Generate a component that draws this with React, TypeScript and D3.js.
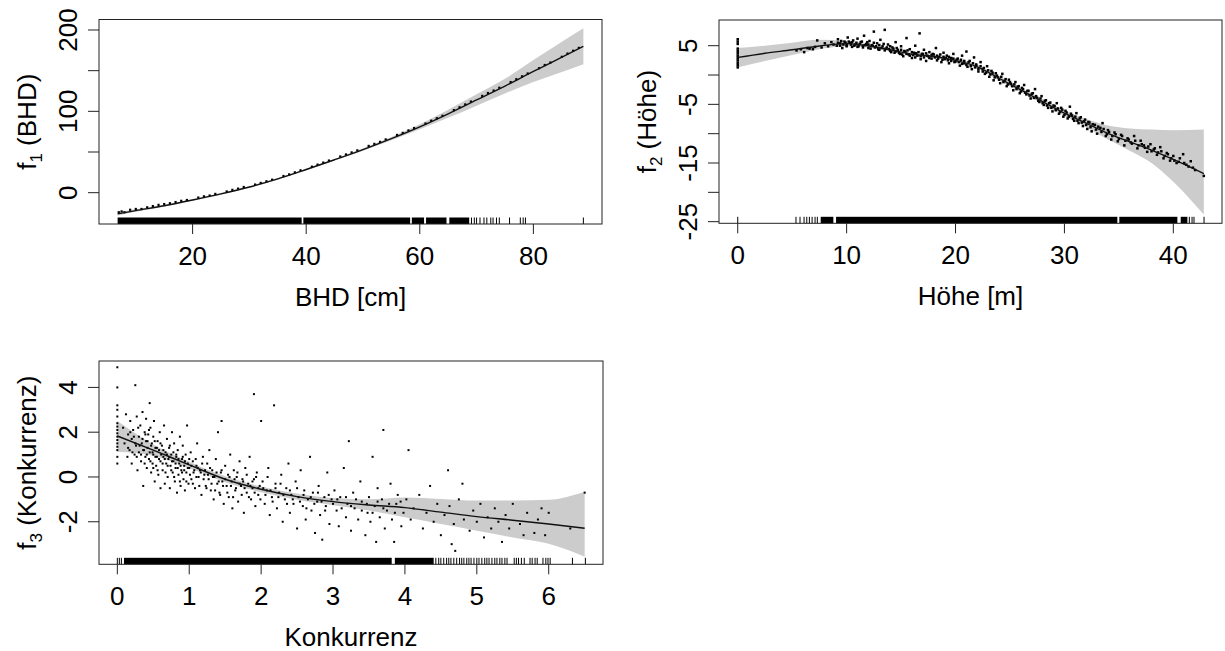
import React from "react";
import * as d3 from "d3";

// ---- f1(BHD) ----
const bhdFitX = [6.8, 10, 15, 20, 25, 30, 35, 40, 45, 50, 55, 60, 65, 70, 75, 80, 84, 88.8];
const bhdFit = [-26, -22, -16, -9, -1.5, 7, 17, 28.5, 40.5, 53, 66.5, 81, 97, 114, 131, 149, 163, 180];
const bhdLower = [-28, -23.5, -17, -10, -2.5, 6, 16, 27.5, 39.5, 51.5, 64.5, 78, 92, 107, 122, 136, 146, 158];
const bhdUpper = [-24, -20.5, -15, -8, -0.5, 8, 18, 29.5, 41.5, 54.5, 68.5, 84, 102, 121, 140, 163, 181, 202];
const bhdResid = [
  [7, -24], [7.5, -23], [8, -24], [9, -21], [10, -20], [11, -20], [12, -18], [13, -16.5], [14, -15], [15, -14],
  [16, -13], [17, -11.5], [18, -10], [19, -9], [21, -6], [22, -4.5], [23, -3.5], [24, -1.5], [26, 1.5], [27, 3.5],
  [28, 5], [29, 7], [31, 10], [32, 12], [33, 14], [34, 16], [36, 20.5], [37, 22.5], [38, 25], [39, 27.5],
  [41, 32], [42, 34.5], [43, 37], [44, 39.5], [46, 44.5], [47, 47], [48, 49.5], [49, 52], [51, 57.5], [52, 60],
  [53, 62.5], [54, 65.5], [56, 71], [57, 73.5], [58, 76.5], [59, 79.5], [61, 85], [62, 88.5], [63, 91.5], [64, 94.5],
  [66, 101.5], [67, 105], [68, 108.5], [69, 112], [71, 119], [72, 122.5], [73, 125.5], [74, 129], [76, 136], [77, 139.5],
  [78, 143], [79, 146.5], [81, 153], [82, 157], [83, 160], [85, 167], [86, 171], [87, 174.5], [88, 178],
];
const bhdRugRanges = [[6.8, 39.2], [39.5, 58.3], [58.6, 60.75], [61.1, 64.7], [65.2, 68.7]];
const bhdRugTicks = [69.1, 69.6, 70.0, 70.6, 71.3, 71.8, 72.5, 72.9, 73.5, 74.0, 75.8, 77.7, 78.2, 78.6, 88.8];
const bhdXTicks = [20, 40, 60, 80];
const bhdYTicks = [0, 50, 100, 150, 200];
const bhdYLabels = [0, 100, 200];

// ---- f2(Höhe) ----
const hFitX = [0, 2.5, 5, 7.5, 10, 12, 14, 16, 18, 20, 22, 24, 26, 28, 30, 32, 34, 36, 38, 40, 42.8];
const hFit = [3.0, 3.7, 4.3, 4.95, 5.35, 4.95, 4.3, 3.55, 3.15, 2.5, 1.4, -0.55, -2.55, -4.55, -6.5, -8.2, -9.95, -11.4, -12.8, -14.4, -16.8];
const hLower = [1.3, 2.4, 3.4, 4.4, 4.9, 4.65, 4.0, 3.3, 2.9, 2.2, 1.05, -0.95, -2.95, -4.95, -7.0, -8.9, -11.0, -12.9, -15.0, -18.2, -23.8];
const hUpper = [4.6, 5.0, 5.5, 6.0, 5.8, 5.25, 4.6, 3.8, 3.4, 2.8, 1.75, -0.15, -2.15, -4.15, -6.0, -7.5, -8.6, -9.1, -9.3, -9.4, -9.3];
const hResid = [
  [0, 1.3], [0, 1.7], [0, 2.1], [0, 2.5], [0, 2.9], [0, 3.3], [0, 3.7], [0, 4.1], [0, 4.5], [0, 5.3], [0, 5.7], [0, 6.1],
  [5.4, 4.2], [5.8, 4.4], [6.1, 3.9], [6.4, 4.6], [6.6, 4.5], [6.9, 4.4], [7.1, 4.8], [7.3, 5.9], [7.7, 4.7], [8.0, 5.4], [8.3, 4.9], [8.6, 5.6], [8.8, 5.2],
  [9.1, 5.0], [9.2, 6.1], [9.4, 5.4], [9.6, 4.6], [9.8, 5.7], [10.0, 5.1], [10.1, 6.4], [10.3, 5.5], [10.5, 4.8], [10.6, 5.9], [10.8, 5.2], [11.0, 6.2],
  [11.1, 4.9], [11.3, 5.6], [11.5, 5.0], [11.6, 6.7], [11.8, 5.3], [12.0, 4.6], [12.1, 5.8], [12.3, 5.1], [12.5, 7.4], [12.6, 4.7], [12.8, 5.4],
  [13.0, 4.3], [13.1, 6.0], [13.3, 4.9], [13.5, 7.7], [13.6, 4.5],
  [13.8, 5.2], [14.0, 4.1], [14.2, 4.7], [14.4, 3.8], [14.5, 5.6], [14.7, 4.3], [14.9, 3.6], [15.0, 4.9], [15.2, 3.2], [15.4, 4.0], [15.5, 6.3],
  [15.7, 3.5], [15.8, 4.4], [16.0, 2.9], [16.2, 3.8], [16.3, 5.0], [16.5, 3.3], [16.7, 7.1], [16.8, 2.7], [17.0, 3.6], [17.1, 4.3], [17.3, 2.4],
  [17.5, 3.2], [17.6, 3.9], [17.8, 2.8], [18.0, 3.5], [18.2, 4.6], [18.3, 2.5], [18.5, 3.1], [18.7, 2.2], [18.9, 3.8], [19.0, 2.7], [19.2, 3.3],
  [19.4, 2.0], [19.6, 2.9], [19.8, 3.6], [20.0, 2.3],
  [20.2, 2.8], [20.4, 1.6], [20.6, 3.3], [20.8, 2.0], [21.0, 4.0], [21.1, 1.4], [21.3, 2.4], [21.5, 1.0], [21.7, 3.0], [21.9, 1.6], [22.1, 0.6],
  [22.3, 2.2], [22.5, 1.0], [22.7, 0.2], [22.9, 1.5], [23.1, -0.3], [23.3, 0.7], [23.5, -0.9], [23.7, 0.3], [23.9, -0.4], [24.1, -1.4], [24.3, 0.2],
  [24.5, -1.0], [24.7, -1.9], [24.9, -0.8], [25.1, -1.5], [25.3, -2.6], [25.5, -1.2], [25.7, -2.0], [25.9, -3.1], [26.1, -2.2], [26.3, -1.7],
  [26.5, -3.3], [26.7, -2.7], [26.9, -4.0], [27.1, -3.1], [27.3, -2.4], [27.5, -3.9], [27.7, -4.6], [27.9, -3.6], [28.1, -5.1], [28.3, -4.3],
  [28.5, -5.6], [28.7, -4.7], [28.9, -6.2], [29.1, -5.3], [29.3, -4.8], [29.5, -6.6], [29.7, -5.6], [29.9, -7.1],
  [30.1, -6.1], [30.3, -7.4], [30.5, -5.4], [30.7, -6.9], [30.9, -7.8], [31.1, -6.5], [31.3, -8.2], [31.5, -7.2], [31.7, -8.7], [31.9, -7.6],
  [32.1, -9.2], [32.3, -8.1], [32.5, -9.6], [32.8, -8.5], [33.0, -10.0], [33.3, -9.0], [33.5, -8.2], [33.8, -10.4], [34.0, -9.4], [34.3, -11.0],
  [34.6, -9.8], [34.9, -11.3], [35.2, -10.2], [35.5, -12.0], [35.8, -10.8], [36.1, -11.5], [36.4, -10.4], [36.7, -12.5], [37.0, -11.2],
  [37.3, -12.0], [37.6, -13.1], [37.9, -11.8], [38.2, -12.7], [38.5, -13.6], [38.8, -12.3], [39.1, -14.2], [39.4, -13.3], [39.7, -14.6],
  [40.0, -13.8], [40.3, -15.0], [40.6, -14.2], [40.9, -13.5], [41.2, -15.3], [41.6, -14.7], [42.0, -16.2], [42.8, -17.2],
  [9.2, 5.5], [9.4, 5.0], [9.5, 5.8], [9.7, 5.2], [9.9, 5.5], [10.0, 4.9], [10.2, 5.7], [10.4, 5.2], [10.5, 5.6], [10.7, 5.0], [10.9, 5.5],
  [11.0, 4.8], [11.2, 5.3], [11.4, 5.7], [11.5, 4.7], [11.7, 5.1], [11.9, 5.6], [12.0, 5.2], [12.2, 4.5], [12.4, 5.0], [12.5, 5.5], [12.7, 4.9],
  [12.9, 4.4], [13.0, 5.1], [13.2, 4.6], [13.4, 5.3], [13.5, 4.2], [13.7, 4.7], [13.9, 4.4], [14.0, 4.9], [14.1, 3.9], [14.3, 4.5], [14.5, 4.0],
  [14.6, 4.6], [14.8, 3.8], [15.0, 4.3], [15.1, 3.5], [15.3, 4.1], [15.5, 3.6], [15.6, 4.2], [15.8, 3.3], [16.0, 3.9], [16.1, 3.4], [16.3, 3.0],
  [16.4, 3.7], [16.6, 3.9], [16.8, 3.2], [16.9, 3.6], [17.1, 3.0], [17.3, 3.7], [17.4, 3.3], [17.6, 2.9], [17.8, 3.4], [17.9, 3.6], [18.1, 3.0],
  [18.3, 3.3], [18.4, 2.8], [18.6, 3.5], [18.8, 2.6], [18.9, 3.1], [19.1, 2.9], [19.3, 2.5], [19.4, 3.1], [19.6, 2.4], [19.8, 2.8], [19.9, 2.2],
  [20.1, 2.6], [20.3, 2.2], [20.5, 2.6], [20.6, 1.9], [20.8, 2.4], [21.0, 1.7], [21.2, 2.2], [21.4, 1.5], [21.6, 2.0], [21.8, 1.3], [21.9, 1.8],
  [22.1, 1.0], [22.3, 1.5], [22.5, 0.6], [22.6, 1.2], [22.8, 0.4], [23.0, 0.8], [23.2, 0.1], [23.4, 0.4], [23.6, -0.4], [23.8, -0.1], [24.0, -0.8],
  [24.2, -0.3], [24.4, -1.2], [24.6, -0.7], [24.8, -1.6], [25.0, -1.2], [25.2, -1.9], [25.4, -1.6], [25.6, -2.4], [25.8, -1.9], [26.0, -2.8],
  [26.2, -2.4], [26.4, -3.0], [26.6, -2.7], [26.8, -3.5], [27.0, -3.2], [27.2, -3.9], [27.4, -3.6], [27.6, -4.4], [27.8, -4.0], [28.0, -4.8],
  [28.2, -4.4], [28.4, -5.2], [28.6, -4.8], [28.8, -5.6], [29.0, -5.2], [29.2, -6.0], [29.4, -5.7], [29.6, -6.3], [29.8, -5.9], [30.0, -6.8],
  [30.2, -6.4], [30.4, -7.1], [30.6, -6.6], [30.8, -7.5], [31.0, -7.1], [31.2, -7.8], [31.4, -7.4], [31.6, -8.1], [31.8, -7.9], [32.0, -8.5],
  [32.2, -8.0], [32.4, -8.9], [32.6, -8.4], [32.9, -9.3], [33.1, -8.8], [33.4, -9.7], [33.6, -9.2], [33.9, -10.1], [34.1, -9.7], [34.4, -10.4],
  [34.7, -10.1], [35.0, -10.9], [35.3, -10.4], [35.6, -11.2], [35.9, -11.0], [36.2, -11.7], [36.5, -11.2], [36.8, -12.0], [37.1, -11.8],
  [37.4, -12.4], [37.7, -12.2], [38.0, -13.0], [38.3, -12.5], [38.6, -13.2], [38.9, -13.0], [39.2, -13.8], [39.5, -13.5], [39.8, -14.2],
  [40.1, -14.6], [40.5, -14.8], [41.0, -15.0], [41.4, -15.6], [41.8, -15.8],
];
const hRugRanges = [[7.62, 8.78], [9.03, 34.86], [35.04, 40.37], [40.68, 41.29]];
const hRugTicks = [0, 5.35, 5.72, 6.09, 6.34, 6.58, 6.83, 7.1, 7.31, 41.47, 41.72, 41.9, 42.82];
const hXTicks = [0, 10, 20, 30, 40];
const hYTicks = [5, 0, -5, -10, -15, -20, -25];
const hYLabels = [5, -5, -15, -25];

// ---- f3(Konkurrenz) ----
const kFitX = [0, 0.5, 1, 1.5, 2, 2.5, 3, 3.5, 4, 4.5, 5, 5.5, 6, 6.5];
const kFit = [1.83, 1.2, 0.54, -0.1, -0.55, -0.88, -1.1, -1.25, -1.37, -1.57, -1.77, -1.93, -2.1, -2.29];
const kLower = [1.13, 0.95, 0.4, -0.23, -0.68, -1.02, -1.26, -1.5, -1.8, -2.1, -2.4, -2.7, -2.98, -3.56];
const kUpper = [2.5, 1.45, 0.68, 0.03, -0.42, -0.74, -0.94, -1.0, -0.92, -0.98, -1.05, -1.05, -1.02, -0.66];
const kResid = [
  [0, 0.6], [0, 0.9], [0, 1.2], [0, 1.35], [0, 1.5], [0, 1.65], [0, 1.8], [0, 1.95], [0, 2.1], [0, 2.25], [0, 2.4], [0, 2.7], [0, 3.0], [0, 3.2], [0, 4.0], [0, 4.9],
  [0.08, 2.2], [0.1, 1.5], [0.12, 2.8], [0.14, 0.9], [0.15, 1.9], [0.17, 1.2], [0.18, 2.5], [0.2, 0.6], [0.2, 1.7], [0.22, 2.1], [0.24, 1.0],
  [0.25, 4.1], [0.26, 1.4], [0.27, 2.7], [0.28, 0.3], [0.3, 1.8], [0.3, 1.1], [0.32, 2.3], [0.33, 0.7], [0.34, 1.5], [0.35, 2.9], [0.36, -0.4],
  [0.37, 1.2], [0.38, 2.0], [0.39, 0.9], [0.4, 1.6], [0.4, 2.6], [0.41, 0.4], [0.42, 1.3], [0.43, 1.9], [0.44, 0.8], [0.45, 3.3], [0.45, 1.1],
  [0.46, 2.2], [0.47, 0.2], [0.48, 1.5], [0.49, 0.6], [0.5, 1.0], [0.5, 1.8], [0.51, 2.5], [0.52, -0.2], [0.53, 1.3], [0.54, 0.5], [0.55, 0.9],
  [0.56, 1.6], [0.57, 0.1], [0.58, 1.2], [0.59, 2.0], [0.6, 0.7], [0.6, -0.5],
  [0.62, 1.4], [0.63, 0.3], [0.64, 0.9], [0.65, 2.3], [0.66, -0.3], [0.67, 1.1], [0.68, 0.6], [0.69, 1.7], [0.7, 0.0], [0.71, 0.8], [0.72, 1.3],
  [0.73, -0.5], [0.74, 0.5], [0.75, 1.0], [0.76, 2.0], [0.77, 0.2], [0.78, 0.7], [0.79, 1.5], [0.8, -0.2], [0.81, 0.4], [0.82, 0.9], [0.83, -0.7],
  [0.84, 1.2], [0.85, 0.1], [0.86, 0.6], [0.87, 1.8], [0.88, -0.4], [0.89, 0.3], [0.9, 0.8], [0.91, 1.4], [0.92, -0.1], [0.93, 0.5], [0.94, -0.6],
  [0.95, 1.0], [0.96, 0.2], [0.97, 2.3], [0.98, 0.6], [0.99, -0.3], [1.0, 0.4], [1.02, 1.1], [1.03, -0.1], [1.05, 0.7], [1.06, 0.2], [1.08, -0.5],
  [1.1, 0.5], [1.11, 1.5], [1.13, 0.0], [1.15, 0.3], [1.17, -0.8], [1.19, 0.9],
  [1.21, 0.1], [1.23, -0.4], [1.25, 0.6], [1.27, -0.1], [1.28, 1.2], [1.3, -0.6], [1.32, 0.3], [1.34, -1.0], [1.35, 0.0], [1.37, 0.8], [1.39, -0.3],
  [1.4, 2.0], [1.42, -0.7], [1.44, 0.2], [1.45, 2.5], [1.46, -0.2], [1.48, -1.2], [1.5, 0.5], [1.52, -0.4], [1.54, 0.1], [1.55, -0.9], [1.57, 1.0],
  [1.59, -0.2], [1.6, -1.4], [1.62, 0.3], [1.64, -0.6], [1.66, 0.0], [1.68, -1.1], [1.7, 0.7], [1.72, -0.4], [1.74, -0.1], [1.76, -1.6], [1.78, 0.4],
  [1.8, -0.7], [1.82, -0.3], [1.84, 0.9], [1.86, -1.0], [1.88, -0.5], [1.9, 3.7], [1.9, -0.1], [1.92, -1.3], [1.94, 0.2], [1.96, -0.8], [1.98, -0.4],
  [2.0, 2.5], [2.02, -0.2], [2.05, -1.2], [2.08, -0.6], [2.1, 0.4], [2.12, -1.7], [2.15, -0.9], [2.18, 3.2], [2.2, -0.3], [2.22, -1.4], [2.25, -0.7],
  [2.28, 0.1], [2.3, -2.0], [2.33, -1.0], [2.35, -0.5], [2.38, 0.6], [2.4, -1.6], [2.42, -0.8], [2.45, -1.2], [2.48, -0.2], [2.5, -2.3], [2.52, -0.9],
  [2.55, 0.3], [2.58, -1.3], [2.6, -0.6], [2.62, -1.9], [2.65, -1.0], [2.68, 0.9], [2.7, -1.5], [2.72, -0.7], [2.75, -2.5], [2.78, -1.1], [2.8, -0.4],
  [2.82, -1.7], [2.85, -2.8], [2.88, -0.9], [2.9, -1.3], [2.92, 0.2], [2.95, -2.1], [2.98, -1.0],
  [3.02, -0.6], [3.05, -1.5], [3.08, -2.2], [3.1, -0.9], [3.15, 0.4], [3.18, -1.8], [3.2, -1.2], [3.22, 1.6], [3.25, -2.4], [3.28, -0.7], [3.3, -1.4],
  [3.35, -1.9], [3.38, -0.2], [3.4, -1.1], [3.45, -2.6], [3.48, -1.6], [3.5, -0.9], [3.52, -2.0], [3.55, 0.9], [3.58, -1.3], [3.6, -2.9], [3.62, -0.5],
  [3.65, -1.8], [3.68, -1.0], [3.7, 2.1], [3.72, -2.3], [3.75, -1.5], [3.8, -0.3], [3.82, -1.9], [3.85, -2.9], [3.88, -1.2], [3.9, -0.8], [3.95, -2.2], [3.98, -1.6],
  [4.02, -1.0], [4.05, 1.2], [4.08, -1.9], [4.12, -1.4], [4.2, -0.8], [4.25, -2.3], [4.3, -1.6], [4.35, -0.4], [4.4, -2.0], [4.45, -1.2], [4.5, -2.6],
  [4.55, -1.7], [4.6, 0.3], [4.62, -1.3], [4.65, -3.0], [4.68, -2.1], [4.7, -3.3], [4.75, -1.0], [4.8, -0.3], [4.82, -1.9], [4.9, -2.4], [4.95, -1.5],
  [5.0, -2.0], [5.05, -1.2], [5.1, -2.7], [5.15, -1.8], [5.2, -2.3], [5.25, -1.4], [5.3, -2.0], [5.35, -2.9], [5.4, -1.7], [5.45, -2.3], [5.5, -1.2],
  [5.6, -2.1], [5.65, -2.6], [5.7, -1.6], [5.8, -2.5], [5.85, -1.9], [5.9, -1.4], [5.95, -2.6], [6.0, -1.6], [6.3, -2.3], [6.5, -0.7],
  [0.15, 1.3], [0.18, 2.0], [0.21, 1.1], [0.23, 1.8], [0.25, 1.5], [0.27, 0.9], [0.29, 2.2], [0.31, 1.4], [0.33, 1.0], [0.35, 1.7], [0.36, 1.2],
  [0.38, 0.6], [0.39, 1.9], [0.41, 1.0], [0.42, 1.6], [0.44, 2.1], [0.46, 0.7], [0.47, 1.4], [0.49, 1.1], [0.5, 0.4], [0.52, 1.6], [0.53, 0.9],
  [0.55, 1.3], [0.56, 0.3], [0.58, 0.8], [0.6, 1.5], [0.61, 1.0], [0.63, 0.6], [0.64, 1.2], [0.66, 0.8], [0.67, 0.2], [0.69, 1.0], [0.7, 0.5],
  [0.72, 0.9], [0.73, 1.4], [0.75, 0.3], [0.76, 0.7], [0.78, 1.1], [0.79, 0.0], [0.81, 0.6], [0.82, 1.0], [0.84, 0.4], [0.85, 0.8], [0.87, -0.2],
  [0.88, 0.5], [0.9, 0.2], [0.91, 0.9], [0.93, 0.3], [0.94, 0.7], [0.96, -0.2], [0.98, 0.4], [1.0, 0.8], [1.01, 0.1], [1.03, 0.5], [1.05, -0.3],
  [1.07, 0.3], [1.09, 0.8], [1.1, 0.0], [1.12, 0.4], [1.14, -0.4], [1.16, 0.2], [1.18, 0.6], [1.2, -0.1], [1.22, 0.3], [1.24, -0.5], [1.26, 0.1],
  [1.29, 0.4], [1.31, -0.3], [1.33, 0.0], [1.36, -0.6], [1.38, 0.2], [1.41, -0.2], [1.43, -0.8], [1.45, 0.3], [1.47, -0.4], [1.5, -0.1],
  [1.53, -0.7], [1.56, 0.0], [1.58, -0.4], [1.61, -0.9], [1.63, -0.1], [1.65, -0.5], [1.67, 0.2], [1.7, -0.3], [1.73, -0.8], [1.75, -0.2],
  [1.77, -0.5], [1.8, 0.1], [1.83, -0.9], [1.85, -0.4], [1.88, -0.2], [1.91, -0.7], [1.93, 0.0], [1.96, -0.5], [1.99, -1.0], [2.03, -0.5],
  [2.06, -0.8], [2.09, 0.0], [2.13, -0.6], [2.16, -1.1], [2.2, -0.5], [2.24, -0.9], [2.27, -0.3], [2.31, -0.8], [2.36, -1.2], [2.4, -0.6],
  [2.44, -1.0], [2.5, -0.5], [2.54, -1.1], [2.59, -0.8], [2.63, -1.4], [2.69, -0.9], [2.74, -1.2], [2.79, -0.7], [2.84, -1.1], [2.89, -1.5],
  [2.94, -0.8], [3.0, -1.2], [3.06, -1.0], [3.12, -1.4], [3.18, -0.9], [3.25, -1.3], [3.32, -1.0], [3.4, -1.5], [3.47, -1.2], [3.55, -1.6],
  [3.62, -1.1], [3.7, -1.4], [3.78, -1.2], [3.86, -1.6], [3.94, -1.1],
];
const kRugRanges = [[0.093, 3.816], [3.86, 4.4]];
const kRugTicks = [
  0, 0.028, 0.056, 4.43, 4.47, 4.5, 4.54, 4.58, 4.61, 4.64, 4.68, 4.72, 4.76, 4.79, 4.82, 4.86, 4.89, 4.92, 4.96, 5.0, 5.03,
  5.07, 5.11, 5.14, 5.17, 5.21, 5.25, 5.28, 5.32, 5.35, 5.39, 5.42, 5.52, 5.55, 5.58, 5.62, 5.66, 5.74, 5.77, 5.81, 5.84,
  5.92, 5.96, 5.99, 6.02, 6.33, 6.51,
];
const kXTicks = [0, 1, 2, 3, 4, 5, 6];
const kYTicks = [4, 2, 0, -2];

const FONT = "'Liberation Sans', Arial, Helvetica, sans-serif";
const FS = 26;

function Panel(props: any) {
  const { box, xDomain, yDomain, fitX, fit, lower, upper, resid, dot, rugRanges, rugTicks, xTicks, yTicks, yLabels, xTitle, fName, sub, yName } = props;
  const [left, right, top, bottom] = box;
  const x = d3.scaleLinear().domain(xDomain).range([left, right]);
  const y = d3.scaleLinear().domain(yDomain).range([bottom, top]);
  const idx = d3.range(fitX.length);
  const area = d3.area<number>().x((i) => x(fitX[i])).y0((i) => y(lower[i])).y1((i) => y(upper[i])).curve(d3.curveMonotoneX);
  const line = d3.line<number>().x((i) => x(fitX[i])).y((i) => y(fit[i])).curve(d3.curveMonotoneX);
  const rugH = 6.5;
  const cy = (top + bottom) / 2;
  return (
    <g>
      <path d={area(idx) || ""} fill="#cccccc" />
      {resid.map((p: number[], i: number) => (
        <rect key={i} x={x(p[0]) - dot / 2} y={y(p[1]) - dot / 2} width={dot} height={dot} fill="#000" />
      ))}
      <path d={line(idx) || ""} fill="none" stroke="#111" strokeWidth={1.4} />
      {rugRanges.map((r: number[], i: number) => (
        <rect key={"rr" + i} x={x(r[0])} y={bottom - rugH} width={x(r[1]) - x(r[0])} height={rugH} fill="#000" />
      ))}
      {rugTicks.map((t: number, i: number) => (
        <line key={"rt" + i} x1={x(t)} x2={x(t)} y1={bottom - rugH} y2={bottom} stroke="#000" strokeWidth={1} />
      ))}
      <rect x={left} y={top} width={right - left} height={bottom - top} fill="none" stroke="#222" strokeWidth={1} />
      {xTicks.map((t: number) => (
        <g key={"xt" + t}>
          <line x1={x(t)} x2={x(t)} y1={bottom} y2={bottom + 10} stroke="#222" />
          <text x={x(t)} y={bottom + 41} textAnchor="middle" fontSize={FS} fontFamily={FONT}>{t}</text>
        </g>
      ))}
      {yTicks.map((t: number) => (
        <line key={"yt" + t} x1={left - 11} x2={left} y1={y(t)} y2={y(t)} stroke="#222" />
      ))}
      {yLabels.map((t: number) => (
        <text key={"yl" + t} transform={`translate(${left - 22},${y(t)}) rotate(-90)`} textAnchor="middle" fontSize={FS} fontFamily={FONT}>{t}</text>
      ))}
      <text x={(left + right) / 2} y={bottom + 82} textAnchor="middle" fontSize={FS} fontFamily={FONT}>{xTitle}</text>
      <text transform={`translate(${left - 63},${cy}) rotate(-90)`} textAnchor="middle" fontSize={FS} fontFamily={FONT}>
        {fName}
        <tspan fontSize={17} dy={6}>{sub}</tspan>
        <tspan dy={-6}>{"\u00a0(" + yName + ")"}</tspan>
      </text>
    </g>
  );
}

export default function App() {
  return (
    <svg width={1225} height={651} style={{ position: "absolute", left: 0, top: 0, background: "#fff" }}>
      <rect width={1225} height={651} fill="#fff" />
      <Panel
        box={[99, 602, 19.5, 224]}
        xDomain={[3.52, 92.08]}
        yDomain={[-38.5, 212.9]}
        fitX={bhdFitX} fit={bhdFit} lower={bhdLower} upper={bhdUpper} resid={bhdResid} dot={2.2}
        rugRanges={bhdRugRanges} rugTicks={bhdRugTicks}
        xTicks={bhdXTicks} yTicks={bhdYTicks} yLabels={bhdYLabels}
        xTitle="BHD [cm]" fName="f" sub="1" yName="BHD"
      />
      <Panel
        box={[719, 1222, 20, 223.3]}
        xDomain={[-1.72, 44.47]}
        yDomain={[-25.28, 9.38]}
        fitX={hFitX} fit={hFit} lower={hLower} upper={hUpper} resid={hResid} dot={2.5}
        rugRanges={hRugRanges} rugTicks={hRugTicks}
        xTicks={hXTicks} yTicks={hYTicks} yLabels={hYLabels}
        xTitle="Höhe [m]" fName="f" sub="2" yName="Höhe"
      />
      <Panel
        box={[99, 603, 361, 564.3]}
        xDomain={[-0.255, 6.755]}
        yDomain={[-3.9, 5.18]}
        fitX={kFitX} fit={kFit} lower={kLower} upper={kUpper} resid={kResid} dot={2}
        rugRanges={kRugRanges} rugTicks={kRugTicks}
        xTicks={kXTicks} yTicks={kYTicks} yLabels={kYTicks}
        xTitle="Konkurrenz" fName="f" sub="3" yName="Konkurrenz"
      />
    </svg>
  );
}
